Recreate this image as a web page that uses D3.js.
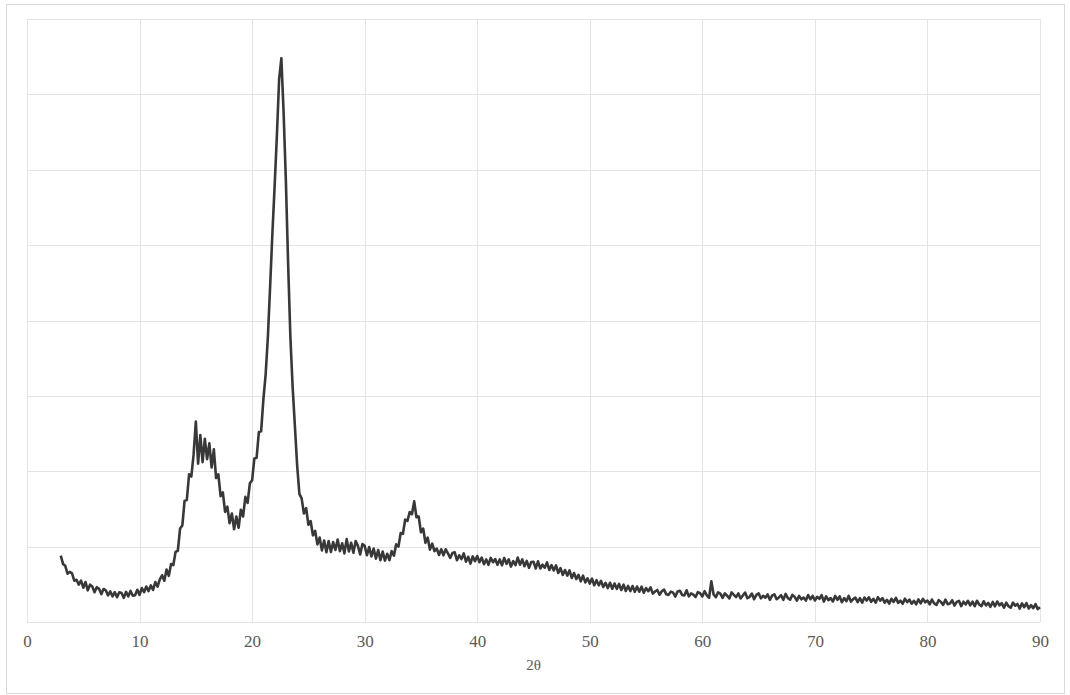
<!DOCTYPE html>
<html>
<head>
<meta charset="utf-8">
<script src="https://cdn.jsdelivr.net/npm/d3@7"></script>
<style>
  body { margin: 0; background: #fff; }
  svg text { font-family: 'Liberation Serif', 'Times New Roman', serif; fill: #595959; }
</style>
</head>
<body>
<div id="chart"></div>
<script>
// scan: 2θ from 3° to 90°, one reading every 0.2°
const angleStart = 3;
const angleStep = 0.2;
const xTicks = [0, 10, 20, 30, 40, 50, 60, 70, 80, 90];
const yGrid = [0, 1000, 2000, 3000, 4000, 5000, 6000, 7000, 8000];
const xTitle = '2θ';

// intensity (counts)
const intensity = [
  880, 770, 745, 640, 665,      // 3
  645, 548, 560, 495, 550,      // 4
  455, 530, 420, 495, 470,      // 5
  395, 462, 440, 370, 438,      // 6
  420, 352, 405, 340, 395,      // 7
  330, 395, 385, 320, 400,      // 8
  340, 412, 348, 355, 428,      // 9
  360, 450, 395, 470, 410,      // 10
  485, 425, 530, 470, 565,      // 11
  620, 548, 695, 612, 770,      // 12
  755, 930, 945, 1240, 1280,    // 13
  1610, 1620, 1960, 1930, 2220, // 14
  2660, 2100, 2480, 2120, 2430, // 15
  2160, 2370, 2050, 2290, 1910, // 16
  1960, 1670, 1720, 1460, 1530, // 17
  1310, 1440, 1230, 1400, 1250, // 18
  1490, 1400, 1660, 1580, 1840, // 19
  1880, 2170, 2180, 2520, 2530, // 20
  2950, 3280, 3780, 4450, 5150, // 21
  5780, 6450, 7200, 7480, 6750, // 22
  5850, 4750, 3780, 3120, 2600, // 23
  2080, 1700, 1640, 1440, 1510, // 24
  1290, 1340, 1150, 1210, 1030, // 25
  1120, 950, 1080, 925, 1075,   // 26
  930, 1060, 955, 1095, 940,    // 27
  1045, 910, 1100, 935, 1050,   // 28
  920, 1075, 1010, 895, 1035,   // 29
  1010, 885, 995, 870, 975,     // 30
  840, 955, 820, 935, 815,      // 31
  905, 820, 940, 880, 1030,     // 32
  1000, 1180, 1170, 1360, 1340, // 33
  1460, 1430, 1600, 1390, 1400, // 34
  1190, 1240, 1050, 1120, 960,  // 35
  1040, 940, 975, 890, 965,     // 36
  885, 965, 910, 850, 915,      // 37
  925, 820, 885, 835, 910,      // 38
  800, 865, 775, 870, 807,      // 39
  875, 793, 855, 767, 830,      // 40
  758, 850, 793, 835, 760,      // 41
  830, 753, 850, 772, 830,      // 42
  735, 808, 756, 855, 760,      // 43
  830, 740, 810, 720, 795,      // 44
  800, 710, 805, 710, 760,      // 45
  720, 790, 690, 755, 685,      // 46
  750, 650, 715, 625, 690,      // 47
  615, 685, 585, 650, 570,      // 48
  625, 540, 615, 525, 580,      // 49
  510, 575, 488, 555, 487,      // 50
  545, 465, 520, 450, 520,      // 51
  440, 510, 440, 505, 425,      // 52
  495, 412, 478, 410, 477,      // 53
  400, 471, 402, 468, 389,      // 54
  450, 408, 460, 377, 405,      // 55
  425, 362, 408, 430, 367,      // 56
  360, 403, 390, 338, 405,      // 57
  415, 359, 352, 421, 340,      // 58
  379, 363, 332, 396, 381,      // 59
  340, 409, 353, 322, 540,      // 60
  365, 329, 393, 377, 321,      // 61
  380, 349, 313, 392, 361,      // 62
  330, 379, 313, 352, 391,      // 63
  315, 334, 378, 302, 361,      // 64
  380, 314, 348, 322, 366,      // 65
  295, 349, 368, 302, 326,      // 66
  355, 294, 373, 317, 296,      // 67
  360, 334, 283, 347, 301,      // 68
  325, 284, 358, 302, 346,      // 69
  285, 334, 308, 357, 271,      // 70
  340, 289, 318, 272, 346,      // 71
  295, 339, 263, 317, 276,      // 72
  346, 270, 304, 323, 262,      // 73
  317, 256, 325, 285, 328,      // 74
  268, 307, 256, 330, 284,      // 75
  317, 256, 295, 244, 308,      // 76
  266, 320, 254, 283, 242,      // 77
  310, 264, 298, 242, 281,      // 78
  235, 299, 248, 307, 261,      // 79
  285, 234, 298, 247, 226,      // 80
  290, 264, 228, 297, 236,      // 81
  245, 289, 218, 267, 281,      // 82
  210, 269, 233, 282, 221,      // 83
  270, 209, 282, 232, 211,      // 84
  275, 219, 253, 202, 266,      // 85
  208, 272, 221, 250, 189,      // 86
  256, 210, 189, 257, 217,      // 87
  239, 178, 247, 196, 250,      // 88
  180, 224, 183, 237, 171,      // 89
  195                           // 90
];

const W = 1070, H = 695;
const margin = { top: 19, right: 30, bottom: 73, left: 27 };

const svg = d3.select('#chart').append('svg').attr('width', W).attr('height', H);

// outer chart frame
svg.append('rect')
  .attr('x', 6.5).attr('y', 4.5)
  .attr('width', 1058).attr('height', 689)
  .attr('fill', '#fff')
  .attr('stroke', '#d9d9d9');

const x = d3.scaleLinear().domain([0, 90]).range([margin.left, W - margin.right]);
const y = d3.scaleLinear().domain([0, 8000]).range([H - margin.bottom, margin.top]);

// grid
svg.append('g').selectAll('line').data(yGrid).enter().append('line')
  .attr('x1', x(0)).attr('x2', x(90))
  .attr('y1', (d) => Math.round(y(d)) + 0.5).attr('y2', (d) => Math.round(y(d)) + 0.5)
  .attr('stroke', '#e4e4e4').attr('stroke-width', 1);

svg.append('g').selectAll('line').data(xTicks).enter().append('line')
  .attr('x1', (d) => Math.round(x(d)) + 0.5).attr('x2', (d) => Math.round(x(d)) + 0.5)
  .attr('y1', y(8000)).attr('y2', y(0))
  .attr('stroke', '#e4e4e4').attr('stroke-width', 1);

// bottom axis: labels only, no domain line
const xAxis = svg.append('g')
  .attr('transform', `translate(0,${y(0)})`)
  .call(d3.axisBottom(x).tickValues(xTicks).tickSize(0).tickPadding(13));
xAxis.select('.domain').remove();
xAxis.selectAll('text')
  .attr('font-family', "'Liberation Serif', 'Times New Roman', serif")
  .attr('font-size', 17)
  .attr('fill', '#595959');

svg.append('text')
  .attr('x', (x(0) + x(90)) / 2)
  .attr('y', 670)
  .attr('text-anchor', 'middle')
  .attr('font-size', 15)
  .text(xTitle);

// diffraction pattern
const line = d3.line()
  .x((d, i) => x(angleStart + i * angleStep))
  .y((d) => y(d));

svg.append('path')
  .datum(intensity)
  .attr('d', line)
  .attr('fill', 'none')
  .attr('stroke', '#383838')
  .attr('stroke-width', 2.6)
  .attr('stroke-linejoin', 'round');
</script>
</body>
</html>
